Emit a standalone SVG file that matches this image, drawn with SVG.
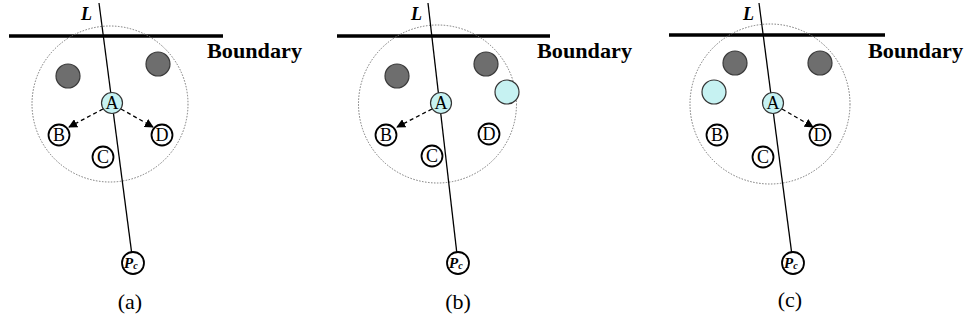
<svg xmlns="http://www.w3.org/2000/svg" width="965" height="322" viewBox="0 0 965 322">
<style>
.bd{stroke:#000;stroke-width:3.5}
.ln{stroke:#000;stroke-width:1.3;fill:none}
.rng{fill:none;stroke:#777;stroke-width:1;stroke-dasharray:1.5 1.5}
.gr{fill:#6e6e6e;stroke:#3a3a3a;stroke-width:1.2}
.cy{fill:#c6f2f2;stroke:#333;stroke-width:1.2}
.wn{fill:#fff;stroke:#000;stroke-width:1.8}
.ar{stroke:#000;stroke-width:1.3;stroke-dasharray:4 3;fill:none;marker-end:url(#ah)}
text{font-family:"Liberation Serif","DejaVu Serif","Times New Roman",serif;fill:#000}
.t{font-size:18px;text-anchor:middle}
.bt{font-size:21px;font-weight:bold}
.lt{font-size:18px;font-weight:bold;font-style:italic}
.cap{font-size:22px;text-anchor:middle}
.pc{font-size:15px;font-weight:bold;font-style:italic}
</style>
<defs>
<marker id="ah" viewBox="0 0 10 10" refX="9" refY="5" markerWidth="9" markerHeight="9" markerUnits="userSpaceOnUse" orient="auto">
<path d="M0,0 L10,5 L0,10 z" fill="#000"/>
</marker>
</defs>

<!-- Panel (a) -->
<g id="panel-a">
<g id="a-boundary"><line class="bd" x1="9" y1="36" x2="223" y2="36"/><text class="bt" x="207" y="58" textLength="95" lengthAdjust="spacingAndGlyphs">Boundary</text></g>
<circle id="a-range" class="rng" cx="110" cy="104" r="78"/>
<g id="a-connectors">
<line class="ln" x1="99" y1="3" x2="133" y2="263"/>
<line class="ar" x1="103" y1="109" x2="69" y2="127"/>
<line class="ar" x1="121" y1="109" x2="153" y2="127"/>
</g>
<text class="lt" x="81" y="20">L</text>
<g id="a-g1"><circle class="gr" cx="68" cy="76" r="12"/></g>
<g id="a-g2"><circle class="gr" cx="158" cy="64" r="12"/></g>
<g id="a-A"><circle class="cy" cx="112" cy="103" r="10.5"/><text class="t" x="112" y="109">A</text></g>
<g id="a-B"><circle class="wn" cx="59" cy="135" r="10.5"/><text class="t" x="59" y="141">B</text></g>
<g id="a-C"><circle class="wn" cx="103" cy="157" r="10.5"/><text class="t" x="103" y="163">C</text></g>
<g id="a-D"><circle class="wn" cx="162" cy="135" r="10.5"/><text class="t" x="162" y="141">D</text></g>
<g id="a-Pc"><circle class="wn" cx="133" cy="263" r="11" stroke-width="1.3"/><text class="pc" x="124" y="268">P<tspan font-size="10" dy="1">c</tspan></text></g>
<text class="cap" x="130" y="309">(a)</text>
</g>

<!-- Panel (b) -->
<g id="panel-b">
<g id="b-boundary"><line class="bd" x1="337" y1="36" x2="550" y2="36"/><text class="bt" x="537" y="58" textLength="95" lengthAdjust="spacingAndGlyphs">Boundary</text></g>
<circle id="b-range" class="rng" cx="437.5" cy="104" r="79"/>
<g id="b-connectors">
<line class="ln" x1="428" y1="3" x2="458" y2="263"/>
<line class="ar" x1="432" y1="109" x2="397" y2="127"/>
</g>
<text class="lt" x="411" y="20">L</text>
<g id="b-g1"><circle class="gr" cx="397" cy="76" r="12"/></g>
<g id="b-g2"><circle class="gr" cx="486" cy="64" r="12"/></g>
<g id="b-cy"><circle class="cy" cx="507" cy="92" r="12"/></g>
<g id="b-A"><circle class="cy" cx="441" cy="103" r="10.5"/><text class="t" x="441" y="109">A</text></g>
<g id="b-B"><circle class="wn" cx="386" cy="135" r="10.5"/><text class="t" x="386" y="141">B</text></g>
<g id="b-C"><circle class="wn" cx="432" cy="156" r="10.5"/><text class="t" x="432" y="162">C</text></g>
<g id="b-D"><circle class="wn" cx="489" cy="134" r="10.5"/><text class="t" x="489" y="140">D</text></g>
<g id="b-Pc"><circle class="wn" cx="458" cy="263" r="11" stroke-width="1.3"/><text class="pc" x="449" y="268">P<tspan font-size="10" dy="1">c</tspan></text></g>
<text class="cap" x="458" y="309">(b)</text>
</g>

<!-- Panel (c) -->
<g id="panel-c">
<g id="c-boundary"><line class="bd" x1="669" y1="35" x2="885" y2="35"/><text class="bt" x="868" y="58" textLength="95" lengthAdjust="spacingAndGlyphs">Boundary</text></g>
<circle id="c-range" class="rng" cx="770" cy="104" r="80"/>
<g id="c-connectors">
<line class="ln" x1="759" y1="3" x2="793" y2="263"/>
<line class="ar" x1="782" y1="109" x2="813" y2="127"/>
</g>
<text class="lt" x="743" y="20">L</text>
<g id="c-g1"><circle class="gr" cx="735" cy="63" r="12"/></g>
<g id="c-g2"><circle class="gr" cx="820" cy="63" r="12"/></g>
<g id="c-cy"><circle class="cy" cx="714" cy="92" r="12"/></g>
<g id="c-A"><circle class="cy" cx="773" cy="103" r="10.5"/><text class="t" x="773" y="109">A</text></g>
<g id="c-B"><circle class="wn" cx="717" cy="135" r="10.5"/><text class="t" x="717" y="141">B</text></g>
<g id="c-C"><circle class="wn" cx="763" cy="157" r="10.5"/><text class="t" x="763" y="163">C</text></g>
<g id="c-D"><circle class="wn" cx="820" cy="135" r="10.5"/><text class="t" x="820" y="141">D</text></g>
<g id="c-Pc"><circle class="wn" cx="793" cy="263" r="11" stroke-width="1.3"/><text class="pc" x="784" y="268">P<tspan font-size="10" dy="1">c</tspan></text></g>
<text class="cap" x="790" y="307">(c)</text>
</g>
</svg>
